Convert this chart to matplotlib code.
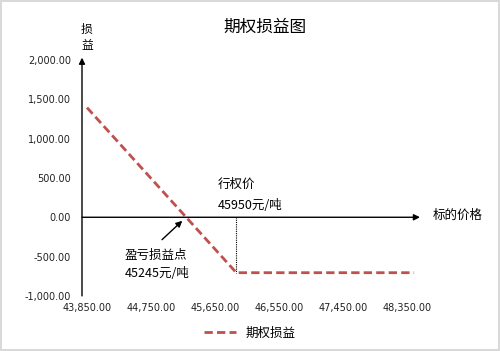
import matplotlib
matplotlib.use('Agg')
import matplotlib.pyplot as plt
from matplotlib.ticker import FuncFormatter

plt.rcParams['font.family'] = ['Noto Sans CJK SC', 'DejaVu Sans']

# Data
prices = [43850, 45950, 48450]
payoff = [1395, -705, -705]
strike = 45950
breakeven = 45245
xticks = [43850, 44750, 45650, 46550, 47450, 48350]
yticks = [-1000, -500, 0, 500, 1000, 1500, 2000]

fig = plt.figure(figsize=(5, 3.51), dpi=100)
fig.patch.set_edgecolor('#d9d9d9')
fig.patch.set_linewidth(1.5)
ax = fig.add_axes([0.164, 0.157, 0.676, 0.672])

ax.plot(prices, payoff, color='#c0504d', lw=2, ls=(0, (3, 1.5)), label='期权损益')

x0, x1 = 43780, 48533
ax.set_xlim(x0, x1)
ax.set_ylim(-1000, 2000)
for s in ax.spines.values():
    s.set_visible(False)

# axes drawn as arrows
ax.annotate('', xy=(x0, 2030), xytext=(x0, -1000),
            arrowprops=dict(arrowstyle='-|>', color='black', lw=1, mutation_scale=9,
                            shrinkA=0, shrinkB=0), annotation_clip=False)
ax.annotate('', xy=(x1, 0), xytext=(x0, 0),
            arrowprops=dict(arrowstyle='-|>', color='black', lw=1, mutation_scale=9,
                            shrinkA=0, shrinkB=0), annotation_clip=False)

ax.set_xticks(xticks)
ax.set_yticks(yticks)
fmt = FuncFormatter(lambda v, p: f'{v:,.2f}')
ax.xaxis.set_major_formatter(fmt)
ax.yaxis.set_major_formatter(fmt)
ax.tick_params(length=0, labelsize=7, colors='#222222')
ax.tick_params(axis='x', pad=5)
ax.tick_params(axis='y', pad=8)
for lbl in ax.get_xticklabels() + ax.get_yticklabels():
    lbl.set_fontfamily('DejaVu Sans')

# strike marker
ax.plot([strike, strike], [0, payoff[1]], color='black', lw=0.8, ls=(0, (1, 1)))
ax.text(strike - 260, 420, '行权价', fontsize=9, ha='left', va='center')
ax.text(strike - 260, 150, '45950元/吨', fontsize=9, ha='left', va='center')

# break-even annotation
ax.annotate('', xy=(breakeven - 55, -45), xytext=(breakeven - 340, -285),
            arrowprops=dict(arrowstyle='-|>', color='black', lw=1, mutation_scale=9,
                            shrinkA=0, shrinkB=0))
ax.text(breakeven - 860, -480, '盈亏损益点', fontsize=9, ha='left', va='center')
ax.text(breakeven - 860, -720, '45245元/吨', fontsize=9, ha='left', va='center')

# axis labels
fig.text(0.174, 1 - 37 / 351, '损\n益', fontsize=8.5, ha='center', va='center', linespacing=1.3)
fig.text(0.866, 1 - 215 / 351, '标的价格', fontsize=9, ha='left', va='center')

fig.text(0.53, 1 - 27 / 351, '期权损益图', fontsize=12, ha='center', va='center')

fig.legend(loc='center', bbox_to_anchor=(0.5, 18 / 351), frameon=False, fontsize=9,
           handlelength=2.5)

fig.savefig('out.png', dpi=100)
